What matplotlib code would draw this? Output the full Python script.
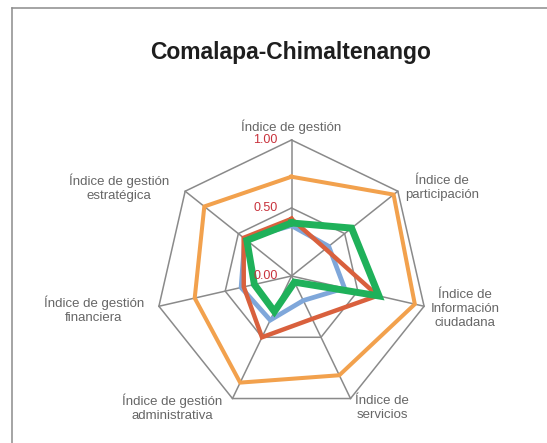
import numpy as np
import matplotlib
matplotlib.use("Agg")
import matplotlib.pyplot as plt
from matplotlib.lines import Line2D

# datos
titulo = "Comalapa-Chimaltenango"
categorias = ["Índice de gestión", "Índice de\nparticipación",
              "Índice de\nInformación\nciudadana", "Índice de\nservicios",
              "Índice de gestión\nadministrativa", "Índice de gestión\nfinanciera",
              "Índice de gestión\nestratégica"]
azul = [0.37, 0.35, 0.40, 0.20, 0.36, 0.38, 0.44]
rojo = [0.42, 0.32, 0.65, 0.35, 0.50, 0.36, 0.45]
naranja = [0.73, 0.96, 0.93, 0.81, 0.87, 0.73, 0.82]
verde = [0.39, 0.565, 0.66, 0.05, 0.29, 0.28, 0.42]
anillos = [0.5, 1.0]
ticks = [0.0, 0.5, 1.0]

plt.rcParams['font.family'] = ['Liberation Sans', 'DejaVu Sans']

fig = plt.figure(figsize=(5.47, 4.43), dpi=100)

# marco del área del gráfico (solo lados izquierdo y superior visibles)
fig.add_artist(Line2D([12 / 547, 12 / 547], [0, 1 - 8 / 443], color='#8c8c8c', lw=1.1))
fig.add_artist(Line2D([12 / 547, 1], [1 - 8 / 443, 1 - 8 / 443], color='#8c8c8c', lw=1.1))

fig.text(291 / 547, 1 - 59 / 443, titulo, ha='center', va='baseline',
         fontsize=16.5, fontweight='bold', color='#1e1e1e')

cx, cy, R = 291.5 / 547, 1 - 276 / 443, 136
ax = fig.add_axes([cx - R / 547, cy - R / 443, 2 * R / 547, 2 * R / 443],
                  projection='polar')
ax.set_theta_offset(np.pi / 2)
ax.set_theta_direction(-1)
ax.set_ylim(0, 1)
ax.grid(False)
ax.set_xticks([])
ax.set_yticks([])
ax.spines['polar'].set_visible(False)
ax.patch.set_alpha(0)

n = len(categorias)
ang = np.linspace(0, 2 * np.pi, n, endpoint=False)
ang_c = np.append(ang, ang[0])

gris = '#8a8a8a'
for r in anillos:
    ax.plot(ang_c, [r] * (n + 1), color=gris, lw=1.1, clip_on=False, zorder=1)
for a in ang:
    ax.plot([a, a], [0, 1], color=gris, lw=1.1, clip_on=False, zorder=1)

series = [(azul, '#7fa7da', 3.4), (rojo, '#d9603d', 3.2),
          (naranja, '#f2a14d', 2.9), (verde, '#1fb15a', 5.0)]
for vals, col, lw in series:
    ax.plot(ang_c, vals + vals[:1], color=col, lw=lw, clip_on=False,
            solid_joinstyle='miter', zorder=3)

for t in ticks:
    ax.annotate(f"{t:.2f}", xy=(0, t), xytext=(-10, 0), textcoords='offset points',
                ha='right', va='center', fontsize=9, color='#c8323c', zorder=4)

# posición de las etiquetas (x, y en píxeles de la figura)
pos_etiquetas = [(291, 127), (442, 188), (465, 309), (382, 408),
                 (172, 408), (94, 310), (119, 187.5)]
for txt, (px, py) in zip(categorias, pos_etiquetas):
    ax.text(0.5 + (px - 291.5) / (2 * R), 0.5 + (276 - py) / (2 * R), txt,
            transform=ax.transAxes, ha='center', va='center', fontsize=9.5,
            color='#666666', linespacing=1.25)

fig.savefig("out.png", dpi=100)
